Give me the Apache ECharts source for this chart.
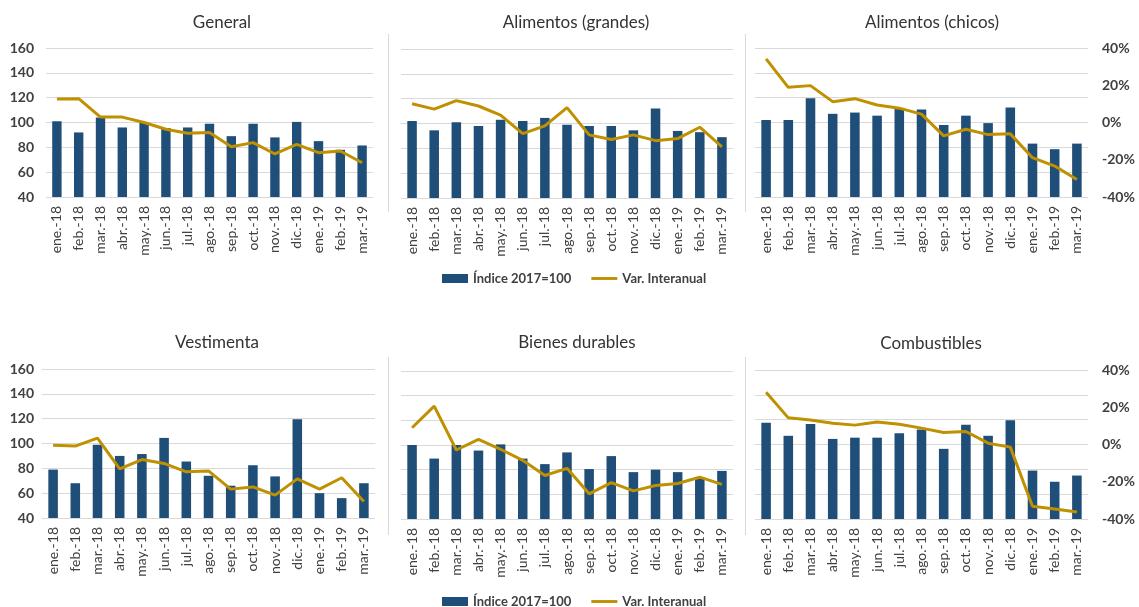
<!DOCTYPE html>
<html>
<head>
<meta charset="utf-8">
<script src="https://cdn.jsdelivr.net/npm/echarts@6/dist/echarts.min.js"></script>
<style>
html,body{margin:0;padding:0;background:#fff;}
#c{width:1139px;height:607px;}
</style>
</head>
<body>
<div id="c"></div>
<script>
const months = ['ene.-18','feb.-18','mar.-18','abr.-18','may.-18','jun.-18','jul.-18','ago.-18','sep.-18','oct.-18','nov.-18','dic.-18','ene.-19','feb.-19','mar.-19'];
const panelTitles = ['General','Alimentos (grandes)','Alimentos (chicos)','Vestimenta','Bienes durables','Combustibles'];
const leftTicks = [40,60,80,100,120,140,160];
const rightTicks = [-40,-20,0,20,40];

const generalIdx = [101,92,104,96,100,95.5,96,99,89,99,88,100.5,85,78,81.5];
const generalVar = [12.6,12.8,2.9,2.9,0,-3.6,-5.8,-5.4,-13,-10.8,-16.9,-11.7,-16.2,-15.3,-21.6];
const grandesIdx = [102,94.5,101,98,103,102,104.5,99,98,98,94.5,112,94,93,89];
const grandesVar = [10.6,7.7,12.3,9.4,4.5,-5.4,-1.3,8.5,-6.1,-8.6,-6.1,-9.2,-8.1,-2,-12.6];
const chicosIdx = [102,102,119.5,107,108,105.5,111,110.5,98,105.5,99.5,112,83,78.5,83];
const chicosVar = [34.2,18.9,19.8,11.2,12.8,9.4,7.7,4.5,-7.2,-3.6,-6.5,-6.1,-18.9,-23.4,-30.6];
const vestIdx = [79,68,99,90,91.5,104.5,85.5,74,66,82.5,73.5,119.5,60,56,68];
const vestVar = [-0.9,-1.4,2.9,-13.6,-8.6,-10.7,-15.2,-14.7,-24.5,-23.3,-27.7,-19,-24.5,-18.4,-31.1];
const durIdx = [100,89,100,95.5,100.5,89,84.5,94,80.5,91,78,80,78,74,79];
const durVar = [9.3,21,-2.7,3,-2.3,-8.3,-16.5,-12.6,-26.4,-20.3,-24.8,-21.9,-20.8,-17.4,-21.3];
const combIdx = [117.5,107,116.5,104.5,105.5,105.5,109,112,96.5,116,107,119.5,79,70,75];
const combVar = [28,14.3,13.2,11.4,10.4,12.1,10.9,8.8,6.4,7,0.7,-1.4,-33.2,-34.6,-36.3];

const idxSeries = [generalIdx, grandesIdx, chicosIdx, vestIdx, durIdx, combIdx];
const varSeries = [generalVar, grandesVar, chicosVar, vestVar, durVar, combVar];

const BAR = '#1F4E79', LINE = '#BF9000', GRID = '#D9D9D9', TXT = '#404040';
const FONT = 'Lato, "Open Sans", sans-serif';
const NAME_BAR = 'Índice 2017=100', NAME_LINE = 'Var. Interanual';

const grids = [
  {left:46, top:48, width:327, height:149},
  {left:401, top:49, width:332, height:149},
  {left:755, top:48, width:333, height:149},
  {left:42, top:369, width:333, height:149},
  {left:401, top:371, width:332, height:148},
  {left:755, top:370, width:333, height:149}
];
const titlePos = [[217,20],[571,20],[927,20],[212,340],[572,340],[926,341]];
const leftMargins = [12,0,0,8,0,0];

const legendCommon = {
  left:437, itemWidth:26, itemHeight:9, itemGap:20, symbolKeepAspect:true,
  textStyle:{fontFamily:FONT, fontSize:13, fontWeight:'bold', color:TXT},
  data:[{name:NAME_BAR, icon:'rect'},{name:NAME_LINE, icon:'path://M0,0H27V3H0Z'}]
};

const option = {
  animation:false,
  backgroundColor:'#fff',
  textStyle:{fontFamily:FONT},
  title: panelTitles.map((t,i)=>({
    text:t, left:titlePos[i][0], top:titlePos[i][1]-11, textAlign:'center',
    textStyle:{fontFamily:FONT, fontSize:17, fontWeight:'normal', color:'#333333'}
  })),
  grid: grids,
  xAxis: grids.map((g,i)=>({
    type:'category', gridIndex:i, data:months,
    axisLine:{show:true, lineStyle:{color:GRID}},
    axisTick:{show:false},
    axisLabel:{rotate:90, interval:0, margin:9, color:TXT, fontSize:14, fontFamily:FONT}
  })),
  yAxis: [],
  series: [],
  legend: [
    Object.assign({top:267}, legendCommon),
    Object.assign({top:590}, legendCommon)
  ],
  graphic: [
    {type:'line', shape:{x1:388.5,y1:34,x2:388.5,y2:212}, style:{stroke:GRID, lineWidth:1}},
    {type:'line', shape:{x1:745.5,y1:34,x2:745.5,y2:212}, style:{stroke:GRID, lineWidth:1}},
    {type:'line', shape:{x1:388.5,y1:357,x2:388.5,y2:535}, style:{stroke:GRID, lineWidth:1}},
    {type:'line', shape:{x1:745.5,y1:357,x2:745.5,y2:535}, style:{stroke:GRID, lineWidth:1}}
  ]
};

grids.forEach((g,i)=>{
  const showLeft = (i===0 || i===3);
  const showRight = (i===2 || i===5);
  option.yAxis.push({
    type:'value', gridIndex:i, min:leftTicks[0], max:leftTicks[leftTicks.length-1], interval:20,
    axisLine:{show:false}, axisTick:{show:false},
    splitLine:{show:true, lineStyle:{color:GRID, width:1}},
    axisLabel:{show:showLeft, margin:leftMargins[i], color:TXT, fontSize:14, fontWeight:'bold', fontFamily:FONT}
  });
  option.yAxis.push({
    type:'value', gridIndex:i, position:'right', min:rightTicks[0], max:rightTicks[rightTicks.length-1], interval:20,
    axisLine:{show:false}, axisTick:{show:false}, splitLine:{show:false},
    axisLabel:{show:showRight, margin:14, color:TXT, fontSize:14, fontWeight:'bold', fontFamily:FONT, align:'left',
      formatter:v=>v+'%'}
  });
  option.series.push({
    name:NAME_BAR, type:'bar', xAxisIndex:i, yAxisIndex:2*i, data:idxSeries[i],
    barWidth:'43%', itemStyle:{color:BAR}
  });
  option.series.push({
    name:NAME_LINE, type:'line', xAxisIndex:i, yAxisIndex:2*i+1, data:varSeries[i],
    symbol:'none', lineStyle:{color:LINE, width:3}, itemStyle:{color:LINE}, z:3
  });
});

const chart = echarts.init(document.getElementById('c'));
chart.setOption(option);
</script>
</body>
</html>
